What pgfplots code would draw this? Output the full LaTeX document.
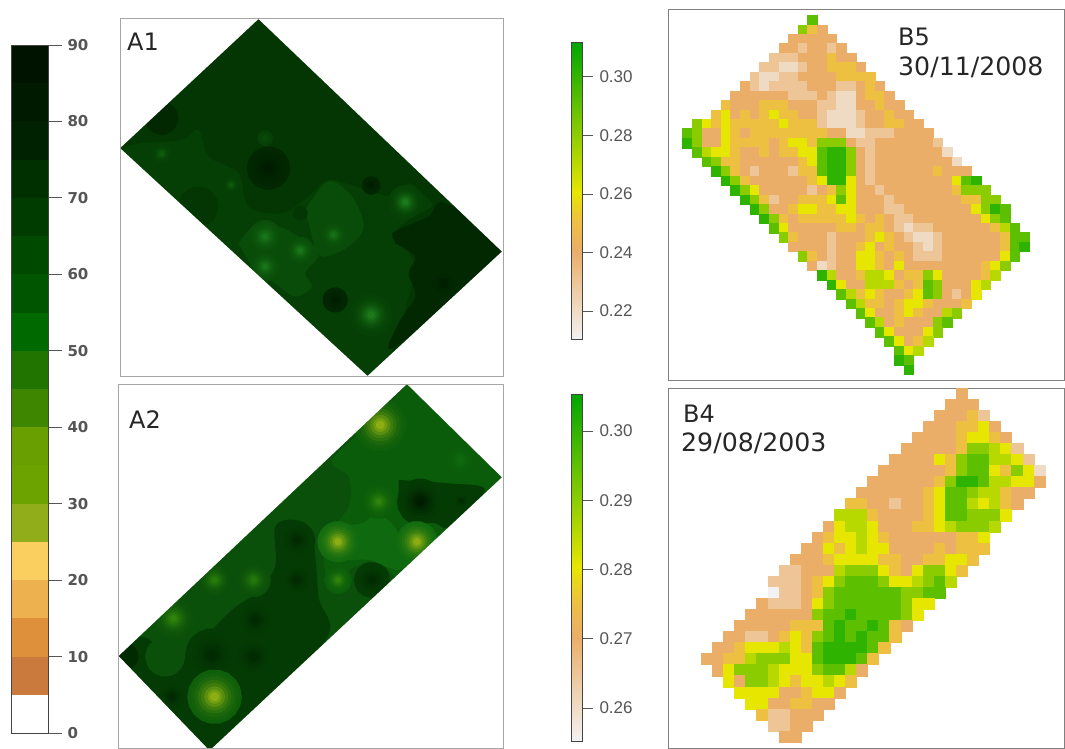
\documentclass[border=0pt]{standalone}
\usepackage{fontspec}
\setmainfont{DejaVu Sans}
\newfontfamily\arialf{Liberation Sans}
\usepackage{pgfplots}
\pgfplotsset{compat=1.18}
% level colours of the 0-90 scale
\definecolor{L05}{HTML}{CB7A3E}\definecolor{L10}{HTML}{DF903A}\definecolor{L15}{HTML}{EDB24F}
\definecolor{L20}{HTML}{FBCE60}\definecolor{L25}{HTML}{91AD1A}\definecolor{L30}{HTML}{6CA300}
\definecolor{L35}{HTML}{69A000}\definecolor{L40}{HTML}{3E8500}\definecolor{L45}{HTML}{227400}
\definecolor{L50}{HTML}{006A00}\definecolor{L55}{HTML}{005500}\definecolor{L60}{HTML}{004A00}
\definecolor{L65}{HTML}{003C00}\definecolor{L70}{HTML}{003000}\definecolor{L75}{HTML}{002200}
\definecolor{L80}{HTML}{001A00}\definecolor{L85}{HTML}{001200}
\definecolor{lab}{HTML}{555555}
% map colours
\definecolor{a}{HTML}{033603}\definecolor{am}{HTML}{053F05}\definecolor{ad}{HTML}{012801}
\definecolor{add}{HTML}{001C00}\definecolor{al}{HTML}{094C09}\definecolor{all}{HTML}{0E5E0E}
\definecolor{ag}{HTML}{1A7A1A}
\definecolor{b}{HTML}{0A4F0A}\definecolor{br}{HTML}{0A5C0A}\definecolor{bd}{HTML}{043B04}
\definecolor{bdd}{HTML}{012A01}\definecolor{bl}{HTML}{0F6A0F}
\definecolor{by}{HTML}{8DAE12}\definecolor{bg}{HTML}{2F820B}
\pgfplotsset{
  colormap={terrainb}{rgb255(0)=(242,242,242) rgb255(3)=(234,174,104) rgb255(4)=(238,192,66) rgb255(5)=(230,230,0) rgb255(10)=(0,166,0)},
  panel/.style={scale only axis,y dir=reverse,ticks=none,axis on top,anchor=south west,clip=true,
    axis line style={draw=#1,line width=0.9pt}},
  cellsty/.style={scatter,only marks,mark=square*,mark size=#1,point meta=explicit,
    point meta min=0,point meta max=10,colormap name=terrainb,
    scatter/use mapped color={draw=mapped color,fill=mapped color},mark options={line width=0.2pt}},
  bar/.style={scale only axis,anchor=south west,axis on top,xmin=0,xmax=1,xtick=\empty,
    ytick pos=right,yticklabel pos=right,tick align=outside,major tick length=11pt,
    tick style={draw=lab,line width=0.9pt},axis line style={draw=lab!80!black,line width=1pt},
    /pgf/number format/assume math mode=true,/pgf/number format/fixed,
    /pgf/number format/fixed zerofill,/pgf/number format/precision=2,
    yticklabel style={font=\arialf\fontsize{17}{17}\selectfont,text=lab,xshift=3pt}},
}
% a round patch of a map: centre x, centre y, radius, colour
\newcommand\blob[4]{%
 \pgfmathsetmacro\rr{(#3)}%
 \gdef\cl{}%
 \foreach \a in {0,20,...,340}{%
   \pgfmathsetmacro\px{#1+\rr*cos(\a)}%
   \pgfmathsetmacro\py{#2+\rr*sin(\a)}%
   \xdef\cl{\cl(\px,\py)}}%
 \edef\temp{\noexpand\addplot[fill={#4},draw=none] coordinates {\cl} -- cycle;}\temp}
\newcommand\glow[5]{%
 \blob{#1}{#2}{#3}{#5!3!#4}
 \blob{#1}{#2}{#3*0.87}{#5!7!#4}
 \blob{#1}{#2}{#3*0.75}{#5!14!#4}
 \blob{#1}{#2}{#3*0.62}{#5!25!#4}
 \blob{#1}{#2}{#3*0.5}{#5!40!#4}
 \blob{#1}{#2}{#3*0.38}{#5!60!#4}
 \blob{#1}{#2}{#3*0.26}{#5!80!#4}
 \blob{#1}{#2}{#3*0.16}{#5}}
\newcommand\region[2]{\addplot[fill=#1,draw=none,smooth,tension=0.55] coordinates {#2} -- cycle;}
\newcommand\band[3]{\addplot[fill=#3,draw=none] coordinates {(0,#1)(1,#1)(1,#2)(0,#2)} -- cycle;}
% raster rows: row index, first column, one digit per cell
\newcount\cx \newtoks\pts
\def\R#1#2#3{\cx=#2 \def\ry{#1}\Rstep#3\relax}
\def\Rstep#1{\ifx#1\relax\else\edef\tmp{\the\pts (\the\cx,\ry) [#1] }\pts=\expandafter{\tmp}\advance\cx by 1 \expandafter\Rstep\fi}
\pts={}
\R{0}{13}{8}\R{1}{12}{743}\R{2}{11}{33333}\R{3}{10}{3323323}\R{4}{9}{222333433}
\R{5}{8}{22112334443}\R{6}{7}{2112233334444}\R{7}{6}{321222233322343}
\R{8}{5}{33333322232113443}\R{9}{4}{4333444333221133433}
\R{10}{3}{453434544332111233433}\R{11}{1}{754544444544421112334433}
\R{12}{0}{87335434444444433112223333}\R{13}{0}{973354444345547773223333332}
\R{14}{1}{865543343445589973233333331}\R{15}{2}{874433333345899732333333331}
\R{16}{3}{974323332448997323333334333}\R{17}{4}{974333333459953233333333589}
\R{18}{5}{975333332347533233333334777}\R{19}{6}{974233444585333233333334477}
\R{20}{7}{973345544553332233333335798}\R{21}{8}{97434444454343223333333578}
\R{22}{9}{85333334434432122333333468}\R{23}{10}{74333233345432112333333488}
\R{24}{11}{3333233453433212333333489}\R{25}{12}{74323355434322233333358}
\R{26}{13}{312335543533333333457}\R{27}{14}{9633466534475333346}
\R{28}{15}{95336664348733356}\R{29}{16}{864543345873235}\R{30}{17}{8644345543334}
\R{31}{18}{85334543367}\R{32}{19}{863433378}\R{33}{20}{8533357}\R{34}{21}{85346}
\R{35}{22}{856}\R{36}{22}{98}\R{37}{23}{9}
\edef\cellsBfive{\the\pts}
\pts={}
\R{0}{23}{3}\R{1}{22}{333}\R{2}{21}{33342}\R{3}{20}{3334453}\R{4}{19}{333345543}
\R{5}{18}{33333477652}\R{6}{17}{3333547886652}\R{7}{16}{333333478854751}
\R{8}{15}{3333334799866553}\R{9}{14}{3333334588766433}\R{10}{13}{4433233458865643}
\R{11}{12}{6664333345887775}\R{12}{11}{3566533344567776}\R{13}{10}{3455654333333445}
\R{14}{9}{33545655333343444}\R{15}{8}{33345555443344554}\R{16}{7}{22333677754357754}
\R{17}{6}{22234578887556786}\R{18}{6}{0223478888887788}\R{19}{5}{3222357888888755}
\R{20}{4}{3333337889888875}\R{21}{3}{3333344489889843}\R{22}{2}{3322345478989884}
\R{23}{1}{3345556548999984}\R{24}{0}{3344677755899984}\R{25}{1}{35777655578863}
\R{26}{2}{537765455654}\R{27}{3}{5555334553}\R{28}{4}{55334433}\R{29}{5}{422333}
\R{30}{6}{2233}\R{31}{7}{33}
\edef\cellsBfour{\the\pts}
\begin{document}
\begin{tikzpicture}[x=1pt,y=1pt]
\path[use as bounding box] (0,0) rectangle (1065,748);
% ---- scale 0-90
\begin{axis}[bar,at={(11pt,15pt)},width=37pt,height=688pt,ymin=0,ymax=90,
  ytick={0,10,...,90},major tick length=14pt,/pgf/number format/precision=0,
  /pgf/number format/fixed zerofill=false,
  yticklabel style={font=\fontsize{15}{15}\selectfont\bfseries,text=lab,xshift=-1pt}]
\band{5}{10}{L05}\band{10}{15}{L10}\band{15}{20}{L15}\band{20}{25}{L20}\band{25}{30}{L25}
\band{30}{35}{L30}\band{35}{40}{L35}\band{40}{45}{L40}\band{45}{50}{L45}\band{50}{55}{L50}
\band{55}{60}{L55}\band{60}{65}{L60}\band{65}{70}{L65}\band{70}{75}{L70}\band{75}{80}{L75}
\band{80}{85}{L80}\band{85}{90}{L85}
\end{axis}
% ---- A1
\begin{axis}[panel={black!35},at={(120pt,372pt)},width=383pt,height=358pt,xmin=15,xmax=1163,ymin=25,ymax=1098]
\region{a}{(0,0)(1200,0)(1200,1200)(0,1200)}
\region{am}{(15,415)(80,400)(200,390)(250,360)(280,440)(370,490)(400,590)(500,610)(580,560)(640,510)(720,530)(830,560)(880,520)(930,560)(950,590)(880,630)(830,680)(880,730)(900,780)(880,860)(850,950)(757,1098)(400,800)}
\region{al}{(570,600)(640,515)(710,560)(745,650)(700,710)(620,740)(590,680)}
\region{al}{(370,700)(420,645)(490,650)(550,680)(600,710)(610,740)(570,790)(590,830)(540,860)(480,820)(410,770)}
\region{ad}{(830,670)(870,650)(940,620)(990,580)(1170,725)(840,1010)(850,940)(900,860)(880,790)(900,740)(840,700)}
\blob{250}{590}{60}{a}
\blob{140}{325}{50}{ad}
\blob{555}{610}{22}{a}
\glow{460}{475}{65}{ad}{add}
\glow{768}{527}{28}{ad}{add}
\glow{660}{870}{38}{ad}{add}
\glow{985}{820}{35}{ad}{add}
\glow{140}{432}{30}{am}{all}
\glow{450}{385}{24}{am}{al}
\glow{348}{525}{24}{am}{all}
\glow{450}{680}{50}{al}{ag!80!all}
\glow{555}{722}{42}{al}{ag!90!all}
\glow{450}{770}{46}{al}{ag!80!all}
\glow{655}{675}{38}{al}{ag!70!all}
\glow{870}{577}{52}{am}{ag}
\glow{768}{915}{64}{am}{ag}
\addplot[fill=white,draw=none,even odd rule] coordinates {(0,0)(1200,0)(1200,1200)(0,1200)(0,0)(430,28)(1160,725)(757,1098)(15,415)(430,28)} -- cycle;
\end{axis}
% ---- A2
\begin{axis}[panel={black!35},at={(118.5pt,0pt)},width=384.5pt,height=364pt,xmin=10,xmax=1163,ymin=12,ymax=1104]
\region{b}{(0,0)(1200,0)(1200,1200)(0,1200)}
\region{br}{(875,12)(1165,292)(930,500)(850,590)(790,540)(720,560)(640,600)(630,480)(700,380)(700,290)(650,240)(770,130)}
\region{bd}{(10,828)(70,770)(130,800)(170,860)(240,800)(350,690)(420,640)(480,560)(480,440)(540,420)(590,460)(610,650)(625,790)(283,1110)}
\region{bd}{(850,300)(1000,310)(1110,330)(1000,440)(960,430)(870,420)(850,360)}
\region{bl}{(640,440)(740,430)(780,400)(830,430)(860,470)(900,440)(960,470)(900,530)(850,570)(760,540)(700,540)(640,530)}
\blob{150}{830}{60}{b}
\blob{30}{830}{40}{bdd}
\glow{290}{825}{80}{bd}{bdd}
\glow{415}{830}{64}{bd}{bdd}
\glow{420}{720}{60}{bd}{bdd}
\glow{545}{480}{55}{bd}{bdd}
\glow{545}{600}{50}{bd}{bdd}
\glow{770}{600}{54}{bd}{bdd}
\glow{915}{365}{70}{bd}{add}
\glow{1038}{362}{22}{bd}{bdd}
\glow{170}{950}{48}{bd}{bdd}
\glow{795}{135}{80}{br}{by}
\glow{1035}{240}{46}{br}{bl}
\glow{790}{365}{52}{br}{bg}
\glow{668}{485}{62}{bl}{by}
\glow{905}{485}{62}{bl}{by}
\glow{668}{600}{42}{br}{bg}
\glow{298}{600}{52}{b}{bg!80!br}
\glow{415}{600}{52}{b}{bg!70!br}
\glow{175}{715}{62}{b}{bg}
\glow{298}{950}{82}{br}{by}
\addplot[fill=white,draw=none,even odd rule] coordinates {(0,0)(1200,0)(1200,1200)(0,1200)(0,0)(875,12)(1160,292)(283,1112)(10,828)(875,12)} -- cycle;
\end{axis}
% ---- colour bar B5
\begin{axis}[bar,at={(571pt,408pt)},width=11pt,height=297pt,ymin=0.2101,ymax=0.3116,
  ytick={0.22,0.24,...,0.30},point meta min=0.2101,point meta max=0.3116,colormap name=terrainb]
\addplot[surf,shader=interp,mesh/rows=5,mesh/cols=2,point meta=y] coordinates {
 (0,0.2101)(1,0.2101)
 (0,0.2405)(1,0.2405)
 (0,0.2608)(1,0.2608)
 (0,0.2860)(1,0.2860)
 (0,0.3116)(1,0.3116)};
\end{axis}
% ---- colour bar B4
\begin{axis}[bar,at={(571pt,7pt)},width=11pt,height=347pt,ymin=0.25523,ymax=0.30534,
  ytick={0.26,0.27,...,0.30},point meta min=0.25523,point meta max=0.30534,colormap name=terrainb]
\addplot[surf,shader=interp,mesh/rows=5,mesh/cols=2,point meta=y] coordinates {
 (0,0.25523)(1,0.25523)
 (0,0.2703)(1,0.2703)
 (0,0.2803)(1,0.2803)
 (0,0.2928)(1,0.2928)
 (0,0.30534)(1,0.30534)};
\end{axis}
% ---- B5
\begin{axis}[panel={black!50},at={(668pt,368pt)},width=396.5pt,height=371pt,xmin=-2,xmax=39.2,ymin=-1.16,ymax=38.1]
\edef\temp{\noexpand\addplot[cellsty=4.8pt] coordinates {\cellsBfive};}\temp
\end{axis}
% ---- B4
\begin{axis}[panel={black!50},at={(668pt,0pt)},width=396.5pt,height=360pt,xmin=-3.49,xmax=32.28,ymin=-0.48,ymax=32.04]
\edef\temp{\noexpand\addplot[cellsty=5.55pt] coordinates {\cellsBfour};}\temp
\end{axis}
% ---- labels
\def\lf{\fontsize{24}{24}\selectfont}
\def\ld{\fontsize{25.2}{25}\selectfont}
\node[anchor=west,inner sep=0,text=black!85] at (127,706) {\lf A1};
\node[anchor=west,inner sep=0,text=black!85] at (129,328) {\lf A2};
\node[anchor=west,inner sep=0,text=black!85] at (898,711) {\lf B5};
\node[anchor=west,inner sep=0,text=black!85] at (898,681) {\ld 30/11/2008};
\node[anchor=west,inner sep=0,text=black!85] at (683,334) {\lf B4};
\node[anchor=west,inner sep=0,text=black!85] at (681,305) {\ld 29/08/2003};
\end{tikzpicture}
\end{document}
